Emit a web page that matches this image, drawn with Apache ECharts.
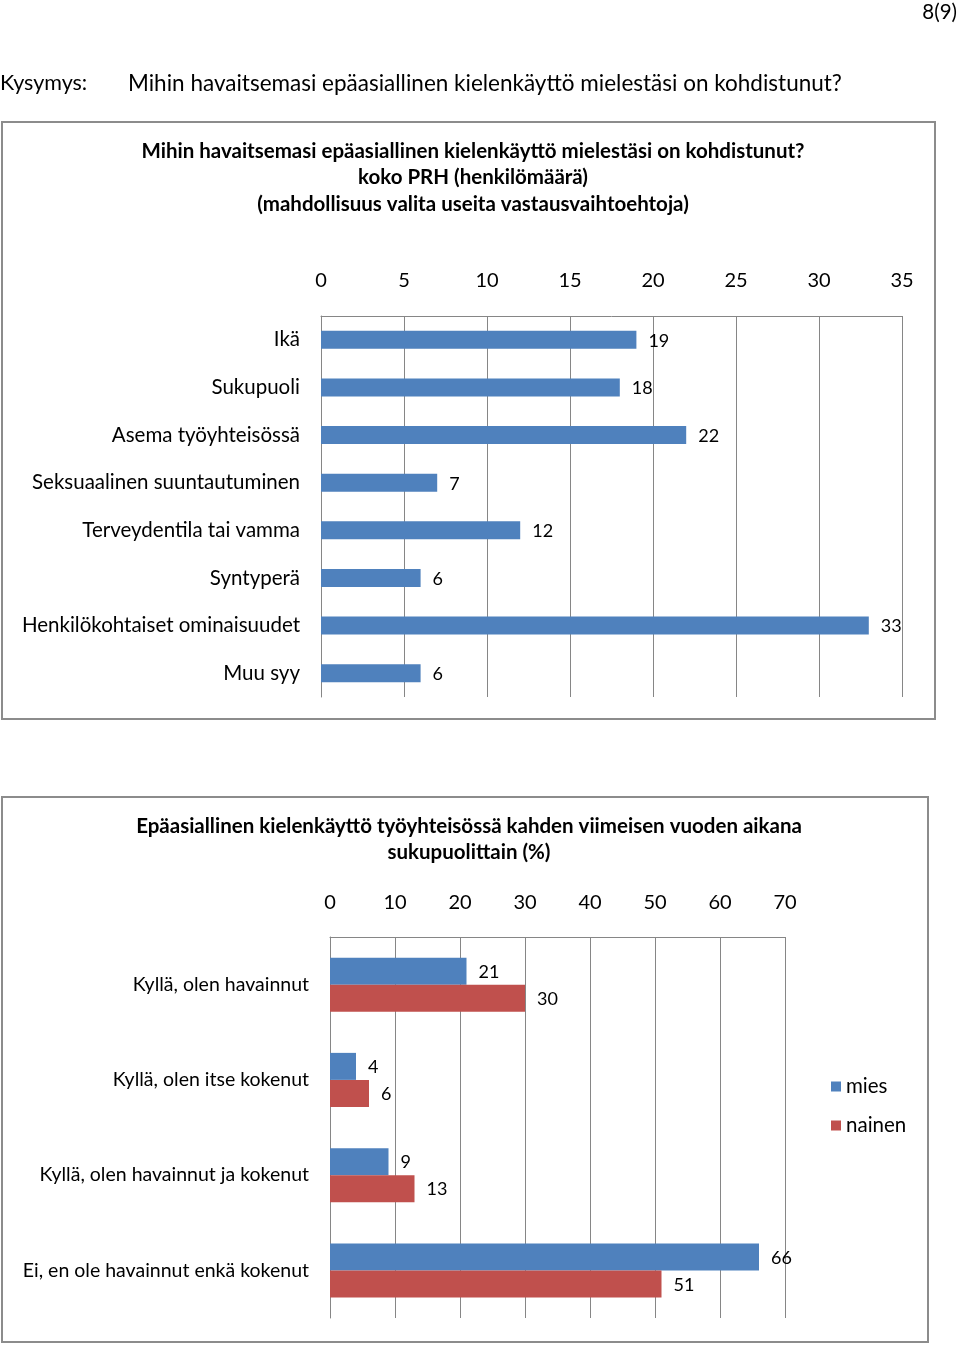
<!DOCTYPE html>
<html><head><meta charset="utf-8">
<script src="https://cdn.jsdelivr.net/npm/echarts@6/dist/echarts.min.js"></script>
<style>html,body{margin:0;padding:0;background:#fff}#c{width:960px;height:1346px}</style>
</head><body><div id="c"></div>
<script>
// Chart 1 data
const cat1 = ['Ikä','Sukupuoli','Asema työyhteisössä','Seksuaalinen suuntautuminen','Terveydentila tai vamma','Syntyperä','Henkilökohtaiset ominaisuudet','Muu syy'];
const val1 = [19,18,22,7,12,6,33,6];
// Chart 2 data
const cat2 = ['Kyllä, olen havainnut','Kyllä, olen itse kokenut','Kyllä, olen havainnut ja kokenut','Ei, en ole havainnut enkä kokenut'];
const mies = [21,4,9,66];
const nainen = [30,6,13,51];
const seriesNames = ['mies','nainen'];

const FONT = 'Lato';
const grey = '#868686';
const chart = echarts.init(document.getElementById('c'), null, {renderer:'canvas'});
const lab = {show:true, position:'right', distance:12, color:'#000', fontSize:18, fontFamily:FONT, offset:[0,1]};
chart.setOption({
  animation:false,
  textStyle:{fontFamily:FONT},
  title:[
    {text:'Mihin havaitsemasi epäasiallinen kielenkäyttö mielestäsi on kohdistunut?\nkoko PRH (henkilömäärä)\n(mahdollisuus valita useita vastausvaihtoehtoja)',
     left:468, top:133, textAlign:'center',
     textStyle:{fontSize:20.5, fontWeight:'bold', color:'#000', lineHeight:26.5, fontFamily:FONT}},
    {text:'Epäasiallinen kielenkäyttö työyhteisössä kahden viimeisen vuoden aikana\nsukupuolittain (%)',
     left:464, top:808, textAlign:'center',
     textStyle:{fontSize:20.5, fontWeight:'bold', color:'#000', lineHeight:26.5, fontFamily:FONT}}
  ],
  graphic:[
    {type:'rect', shape:{x:2,y:122,width:933,height:597}, style:{fill:'none', stroke:'#8c8c8c', lineWidth:2}},
    {type:'rect', shape:{x:2,y:797,width:926,height:545}, style:{fill:'none', stroke:'#8c8c8c', lineWidth:2}},
    {type:'text', right:3, top:2, style:{text:'8(9)', fontSize:20.5, fill:'#000', fontFamily:FONT}},
    {type:'text', left:0, top:72, style:{text:'Kysymys:', fontSize:21.5, fill:'#000', fontFamily:FONT}},
    {type:'text', left:128, top:72, style:{text:'Mihin havaitsemasi epäasiallinen kielenkäyttö mielestäsi on kohdistunut?', fontSize:22.5, fill:'#000', fontFamily:FONT}}
  ],
  legend:{data:seriesNames, orient:'vertical', left:826, top:1071, itemWidth:10, itemHeight:10, itemGap:18, icon:'rect',
    textStyle:{fontSize:20.5, color:'#000', fontFamily:FONT}},
  grid:[
    {left:321, top:316, width:581, height:381},
    {left:330, top:937, width:455, height:381}
  ],
  xAxis:[
    {gridIndex:0, type:'value', position:'top', min:0, max:35, interval:5,
     axisLine:{show:true, lineStyle:{color:grey}}, axisTick:{show:false},
     axisLabel:{margin:25, fontSize:20, color:'#000', fontFamily:FONT},
     splitLine:{show:true, lineStyle:{color:grey, width:1}}},
    {gridIndex:1, type:'value', position:'top', min:0, max:70, interval:10,
     axisLine:{show:true, lineStyle:{color:grey}}, axisTick:{show:false},
     axisLabel:{margin:24, fontSize:20, color:'#000', fontFamily:FONT},
     splitLine:{show:true, lineStyle:{color:grey, width:1}}}
  ],
  yAxis:[
    {gridIndex:0, type:'category', data:cat1, inverse:true,
     axisLine:{show:true, lineStyle:{color:grey}}, axisTick:{show:false},
     axisLabel:{margin:21, fontSize:20.5, color:'#000', fontFamily:FONT}},
    {gridIndex:1, type:'category', data:cat2, inverse:true,
     axisLine:{show:true, lineStyle:{color:grey}}, axisTick:{show:false},
     axisLabel:{margin:21, fontSize:19.5, color:'#000', fontFamily:FONT}}
  ],
  series:[
    {type:'bar', xAxisIndex:0, yAxisIndex:0, data:val1, barWidth:18, itemStyle:{color:'#4F81BD'}, label:lab},
    {type:'bar', name:seriesNames[0], xAxisIndex:1, yAxisIndex:1, data:mies, barWidth:27, barGap:'0%', itemStyle:{color:'#4F81BD'}, label:lab},
    {type:'bar', name:seriesNames[1], xAxisIndex:1, yAxisIndex:1, data:nainen, barWidth:27, barGap:'0%', itemStyle:{color:'#C0504D'}, label:lab}
  ]
});
</script></body></html>
